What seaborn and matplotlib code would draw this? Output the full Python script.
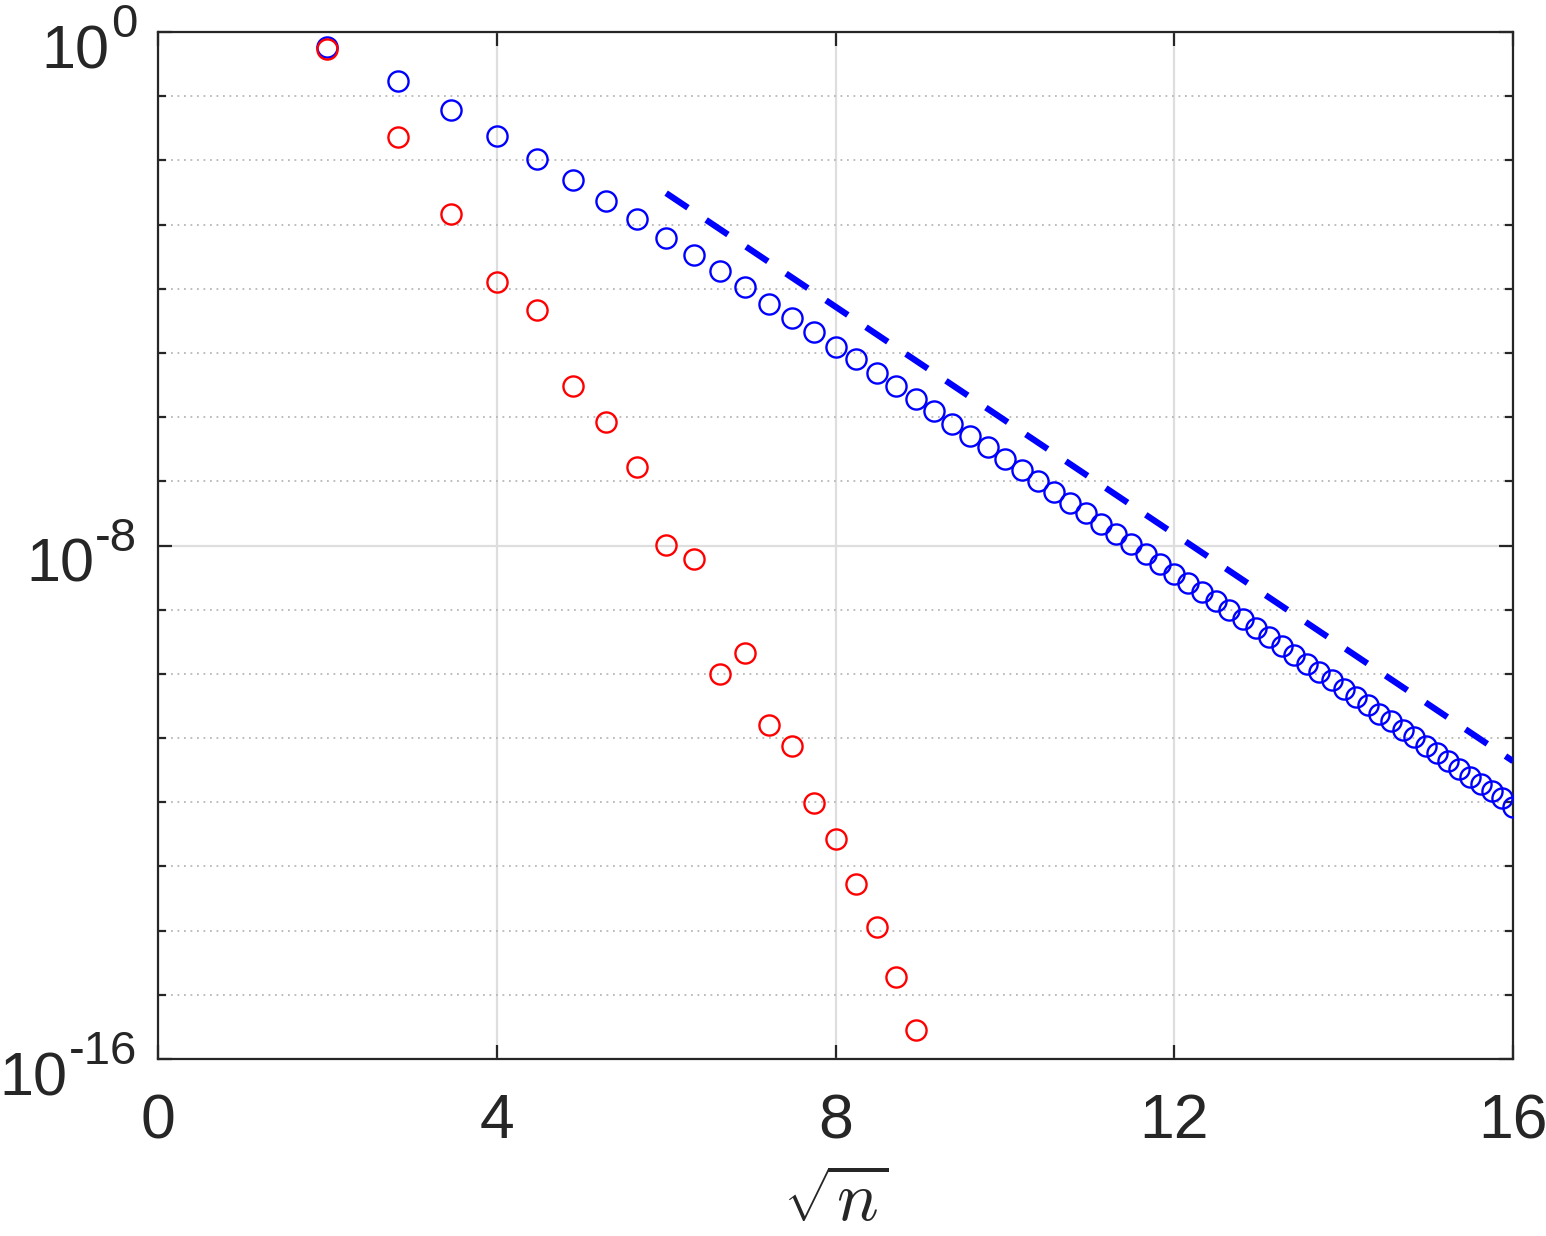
import matplotlib
matplotlib.use("Agg")
import matplotlib.pyplot as plt
import matplotlib.transforms as mtransforms
import numpy as np
import seaborn as sns
from matplotlib.ticker import FixedLocator, NullFormatter

# n = 4, 8, ..., 256 ; plotted against sqrt(n)
n_blue = list(range(4, 257, 4))
n_red = n_blue[:20]

# log10 of the error
blue_log = [-0.24, -0.76, -1.21, -1.615, -1.98, -2.31, -2.63, -2.92, -3.21, -3.47,
            -3.73, -3.98, -4.23, -4.46, -4.68, -4.90, -5.10, -5.31, -5.52, -5.72,
            -5.91, -6.10, -6.29, -6.47, -6.65, -6.83, -7.00, -7.17, -7.33, -7.49,
            -7.66, -7.82, -7.98, -8.13, -8.29, -8.44, -8.58, -8.73, -8.87, -9.01,
            -9.15, -9.29, -9.43, -9.57, -9.70, -9.84, -9.97, -10.10, -10.23, -10.36,
            -10.49, -10.62, -10.74, -10.87, -10.99, -11.12, -11.24, -11.36, -11.48, -11.60,
            -11.71, -11.82, -11.94, -12.07]
red_log = [-0.265, -1.64, -2.83, -3.89, -4.33, -5.51, -6.08, -6.77, -7.99, -8.21,
           -10.0, -9.68, -10.79, -11.13, -12.01, -12.57, -13.28, -13.94, -14.72, -15.55]

# dashed reference slope
ref_x = [6, 16]
ref_log = [-2.51, -11.36]

xtick_vals = [0, 4, 8, 12, 16]
ytick_exps = [-16, -8, 0]

sns.set_style("ticks")
plt.rcParams["font.family"] = ["Liberation Sans", "DejaVu Sans"]
plt.rcParams["axes.unicode_minus"] = False

fig = plt.figure(figsize=(15.46, 12.36), dpi=100)
ax = fig.add_axes([0.1022, 0.1432, 0.8765, 0.8309])

sns.lineplot(x=np.sqrt(n_blue), y=10.0 ** np.array(blue_log), ax=ax, marker="o",
             linestyle="", color="blue", markerfacecolor="none", markeredgecolor="blue",
             markersize=14.5, markeredgewidth=1.7, zorder=3)
sns.lineplot(x=np.sqrt(n_red), y=10.0 ** np.array(red_log), ax=ax, marker="o",
             linestyle="", color="red", markerfacecolor="none", markeredgecolor="red",
             markersize=14.5, markeredgewidth=1.7, zorder=4)
ref_line = sns.lineplot(x=ref_x, y=10.0 ** np.array(ref_log), ax=ax, color="blue",
                        linewidth=4.5, zorder=3)
ref_line.lines[-1].set_dashes((4.2, 3.5))
ref_line.lines[-1].set_dash_capstyle("butt")

ax.set_yscale("log")
ax.set_xlim(0, 16)
ax.set_ylim(1e-16, 1e0)

ax.set_xticks(xtick_vals)
ax.set_xticklabels([str(v) for v in xtick_vals])
ax.yaxis.set_major_locator(FixedLocator([10.0 ** e for e in ytick_exps]))
ax.yaxis.set_major_formatter(NullFormatter())
ax.yaxis.set_minor_locator(FixedLocator([10.0 ** k for k in range(-15, 0) if k != -8]))
ax.yaxis.set_minor_formatter(NullFormatter())
ax.xaxis.set_minor_locator(FixedLocator([]))

ax.grid(True, which="major", color="#dedede", linewidth=1.6, linestyle="-")
ax.grid(True, which="minor", axis="y", color="#b8b8b8", linewidth=1.3, linestyle=(0, (1, 2.6)))
ax.set_axisbelow(True)

for side in ["top", "right", "bottom", "left"]:
    ax.spines[side].set_visible(True)
    ax.spines[side].set_color("#262626")
    ax.spines[side].set_linewidth(1.6)

ax.tick_params(which="major", direction="in", length=10, width=1.6, color="#262626",
               top=True, right=True, labelsize=45, labelcolor="#262626")
ax.tick_params(axis="x", which="major", pad=24)
ax.tick_params(which="minor", direction="in", length=6, width=1.6, color="#262626",
               top=True, right=True)

# MATLAB-style "10^k" labels: big superscript sitting just under the tick
ylab_trans = mtransforms.blended_transform_factory(ax.transAxes, ax.transData) + \
    mtransforms.ScaledTranslation(-0.21, -0.05, fig.dpi_scale_trans)
for e in ytick_exps:
    t_exp = ax.text(0, 10.0 ** e, str(e), transform=ylab_trans, ha="right", va="baseline",
                    fontsize=34, color="#262626", clip_on=False)
    ax.annotate("10", xy=(0, 0), xycoords=t_exp, xytext=(-1, -21), textcoords="offset pixels",
                ha="right", va="baseline", fontsize=44, color="#262626", annotation_clip=False)

ax.set_xlabel(r"$\sqrt{n}$", fontsize=50, math_fontfamily="cm", labelpad=14, color="#262626")
ax.set_ylabel("")

fig.savefig("out.png", dpi=100)
